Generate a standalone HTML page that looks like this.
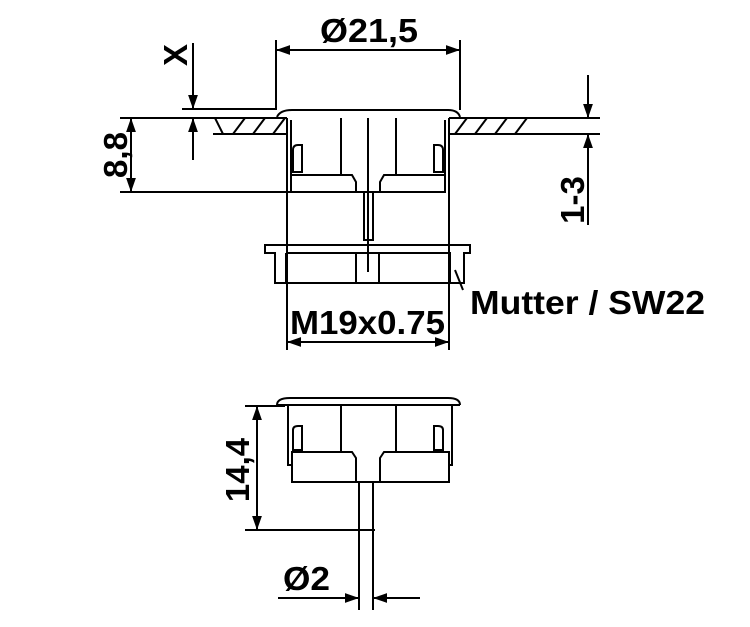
<!DOCTYPE html>
<html><head><style>body{margin:0;background:#fff}svg{display:block}</style></head><body>
<svg width="750" height="627" viewBox="0 0 750 627" xmlns="http://www.w3.org/2000/svg" font-family="Liberation Sans, sans-serif" font-weight="bold">
<defs><marker id="a" viewBox="0 0 10 10" refX="10" refY="5" markerWidth="14" markerHeight="16" markerUnits="userSpaceOnUse" orient="auto-start-reverse"><path d="M0,1.5L10,5L0,8.5z" fill="#000"/></marker></defs>
<g stroke="#000" stroke-width="2" fill="none">
<line x1="276" y1="40" x2="276" y2="110"/><line x1="460" y1="40" x2="460" y2="110"/>
<line x1="276" y1="50" x2="460" y2="50" marker-start="url(#a)" marker-end="url(#a)"/>
<line x1="120" y1="118" x2="287" y2="118"/><line x1="449" y1="118" x2="600" y2="118"/>
<line x1="213" y1="134" x2="287" y2="134"/><line x1="449" y1="134" x2="600" y2="134"/>
<line x1="182" y1="109" x2="277" y2="109"/>
<path d="M215,118l8,16M233,134l12,-16M253,134l12,-16M273,134l12,-16M455,134l12,-16M475,134l12,-16M495,134l12,-16M515,134l12,-16"/>
<line x1="193" y1="43" x2="193" y2="109" marker-end="url(#a)"/>
<line x1="193" y1="160" x2="193" y2="118" marker-end="url(#a)"/>
<line x1="131" y1="118" x2="131" y2="192" marker-start="url(#a)" marker-end="url(#a)"/>
<line x1="120" y1="192" x2="290" y2="192"/>
<line x1="588" y1="75" x2="588" y2="118" marker-end="url(#a)"/>
<line x1="588" y1="225" x2="588" y2="134" marker-end="url(#a)"/>
<path d="M277,117 Q280,110 292,110 L448,110 Q458,110 460,117"/>
<path d="M287,118 V192 M449,118 V192 M291,120 V192 M445,120 V192"/>
<path d="M341,118V175 M396,118V175 M368,118V255"/>
<path d="M290,175H352L356,182V192 M446,175H384L380,182V192 M290,192H446"/>
<path d="M293,172V150Q293,145 298,145H302V172Z M443,172V150Q443,145 438,145H434V172Z"/>
<path d="M364,192V240H373V192"/>
<line x1="287" y1="192" x2="287" y2="350"/><line x1="449" y1="192" x2="449" y2="350"/>
<path d="M265,245H470V253H464V283H275V253H265Z"/>
<path d="M286,253H450V283 M286,253V283 M356,253V283 M379,253V283"/>
<line x1="368" y1="240" x2="368" y2="272"/>
<line x1="455" y1="270" x2="463" y2="290"/>
<line x1="287" y1="342" x2="449" y2="342" marker-start="url(#a)" marker-end="url(#a)"/>
<path d="M277,405 Q277,398 290,398 L448,398 Q460,398 460,405"/>
<path d="M288,405V465H292V482H449V465H452V405 M277,405H460"/>
<path d="M341,405V452 M396,405V452"/>
<path d="M292,465V452H352L356,458V482 M449,465V452H384L380,458V482"/>
<path d="M293,450V430Q293,426 298,426H302V450Z M443,450V430Q443,426 438,426H434V450Z"/>
<path d="M359,482V610 M373,482V610"/>
<line x1="245" y1="406" x2="285" y2="406"/><line x1="245" y1="530" x2="375" y2="530"/>
<line x1="257" y1="406" x2="257" y2="530" marker-start="url(#a)" marker-end="url(#a)"/>
<line x1="278" y1="598" x2="359" y2="598" marker-end="url(#a)"/>
<line x1="420" y1="598" x2="373" y2="598" marker-end="url(#a)"/>
</g>
<g font-size="33" fill="#000">
<text x="320" y="42" textLength="98" lengthAdjust="spacingAndGlyphs">Ø21,5</text>
<text x="290" y="334" textLength="155" lengthAdjust="spacingAndGlyphs">M19x0.75</text>
<text x="470" y="314" textLength="235" lengthAdjust="spacingAndGlyphs">Mutter / SW22</text>
<text x="283" y="590" textLength="47" lengthAdjust="spacingAndGlyphs">Ø2</text>
<text transform="translate(187,55) rotate(-90)" text-anchor="middle">X</text>
<text transform="translate(127,155) rotate(-90)" text-anchor="middle">8,8</text>
<text transform="translate(584,200) rotate(-90)" text-anchor="middle">1-3</text>
<text transform="translate(249,470) rotate(-90)" text-anchor="middle">14,4</text>
</g>
</svg>
</body></html>
